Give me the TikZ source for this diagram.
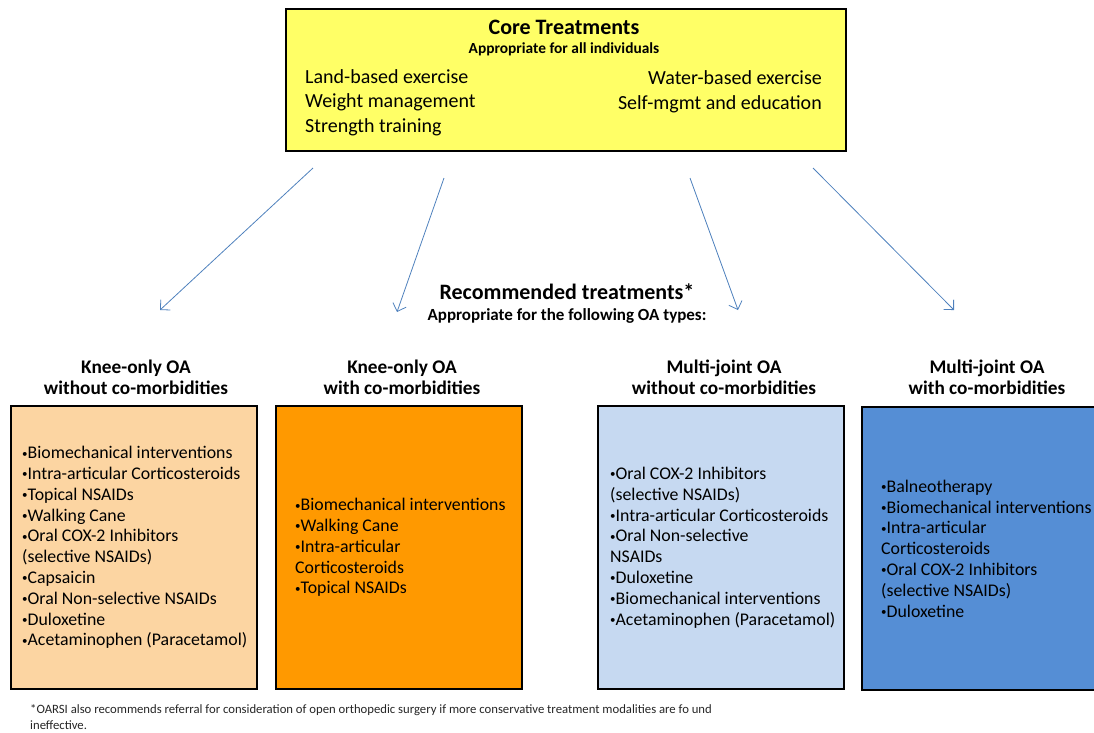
\documentclass[tikz,border=0pt]{standalone}
\usepackage{fontspec}
\setmainfont{Carlito}
\usepackage{xcolor}
\usepackage{tikz}
\usepackage{graphicx}
\usetikzlibrary{arrows.meta,shapes,calc}

\definecolor{coreyellow}{HTML}{FFFF66}
\definecolor{peach}{HTML}{FCD5A2}
\definecolor{darkorange}{HTML}{FF9900}
\definecolor{paleblue}{HTML}{C6D9F1}
\definecolor{midblue}{HTML}{558ED5}
\definecolor{arrowblue}{HTML}{4F81BD}
\newcommand{\bul}{\raisebox{1.6pt}{\fontsize{11}{11}\selectfont •}}

\begin{document}
\begin{tikzpicture}[x=1pt,y=-1pt]
            \tikzset{box/.style = {draw=black, line width=2pt, inner sep=0pt, minimum width=246, minimum height=283, anchor=north west}}
            \tikzset{items/.style = {align=left, anchor=west, inner sep=0pt, font=\fontsize{17.8}{20.8}\selectfont}}
            \tikzset{head/.style = {align=center, inner sep=0pt, font=\bfseries\fontsize{19.3}{21}\selectfont}}
            \tikzset{core/.style = {anchor=base west, inner sep=0pt, font=\fontsize{20}{23}\selectfont}}
            \tikzset{edge/.style = {arrowblue, line width=0.8pt, -{Straight Barb[length=7pt,width=14pt]}}}
            \useasboundingbox (0,0) rectangle (1094,732);

            % core box
            \node[draw=black, line width=2pt, fill=coreyellow, inner sep=0pt, minimum width=560, minimum height=142, anchor=north west] (core) at (285,8) {};
            \node[inner sep=0pt, font=\bfseries\fontsize{22}{26}\selectfont] (coretitle) at (564,27) {Core Treatments};
            \node[inner sep=0pt, font=\bfseries\fontsize{15.4}{18}\selectfont] (coresub) at (564,49) {Appropriate for all individuals};
            \node[core] (land) at (305,83) {Land-based exercise};
            \node[core] (weight) at (305,107) {Weight management};
            \node[core] (strength) at (305,132) {Strength training};
            \node[core, anchor=base east] (water) at (822,84) {Water-based exercise};
            \node[core, anchor=base east] (selfmgmt) at (822,109) {Self-mgmt and education};

            % middle title
            \node[inner sep=0pt, font=\bfseries\fontsize{22}{26}\selectfont] (rec) at (567,292) {Recommended treatments*};
            \node[inner sep=0pt, font=\bfseries\fontsize{17}{20}\selectfont] (recsub) at (567,316) {Appropriate for the following OA types:};

            % arrow ends
            \coordinate (s1) at (313,168); \coordinate (e1) at (160,310);
            \coordinate (s2) at (444,178); \coordinate (e2) at (397,312);
            \coordinate (s3) at (690,178); \coordinate (e3) at (738,310);
            \coordinate (s4) at (813,168); \coordinate (e4) at (954,310);
            \foreach \i in {1,2,3,4} {\draw[edge] (s\i) -- (e\i);}

            % headers
            \node[head] (h1) at (136,377) {Knee-only OA\\without co-morbidities};
            \node[head] (h2) at (402,377) {Knee-only OA\\with co-morbidities};
            \node[head] (h3) at (724,377) {Multi-joint OA\\without co-morbidities};
            \node[head] (h4) at (987,377) {Multi-joint OA\\with co-morbidities};

            % boxes
            \node[box, fill=peach] (b1) at (10,405) {};
            \node[box, fill=darkorange] (b2) at (275,405) {};
            \node[box, fill=paleblue] (b3) at (597,405) {};
            \node[box, fill=midblue] (b4) at (861,406) {};

            % lists
            \node[items] (l1) at ([xshift=12]b1.west) {%
              \bul Biomechanical interventions\\
              \bul Intra-articular Corticosteroids\\
              \bul Topical NSAIDs\\
              \bul Walking Cane\\
              \bul Oral COX-2 Inhibitors\\
              (selective NSAIDs)\\
              \bul Capsaicin\\
              \bul Oral Non-selective NSAIDs\\
              \bul Duloxetine\\
              \bul Acetaminophen (Paracetamol)};
            \node[items] (l2) at ([xshift=20]b2.west) {%
              \bul Biomechanical interventions\\
              \bul Walking Cane\\
              \bul Intra-articular\\
              Corticosteroids\\
              \bul Topical NSAIDs};
            \node[items] (l3) at ([xshift=13]b3.west) {%
              \bul Oral COX-2 Inhibitors\\
              (selective NSAIDs)\\
              \bul Intra-articular Corticosteroids\\
              \bul Oral Non-selective\\
              NSAIDs\\
              \bul Duloxetine\\
              \bul Biomechanical interventions\\
              \bul Acetaminophen (Paracetamol)};
            \node[items] (l4) at ([xshift=20]b4.west) {%
              \bul Balneotherapy\\
              \bul Biomechanical interventions\\
              \bul Intra-articular\\
              Corticosteroids\\
              \bul Oral COX-2 Inhibitors\\
              (selective NSAIDs)\\
              \bul Duloxetine};

            % footnote
            \node[align=left, anchor=north west, inner sep=0pt, font=\fontsize{12.7}{16}\selectfont, text=black!85] (note) at (30,704) {*OARSI also recommends referral for consideration of open orthopedic surgery if more conservative treatment modalities are fo und\\ineffective.};
\end{tikzpicture}
\end{document}
